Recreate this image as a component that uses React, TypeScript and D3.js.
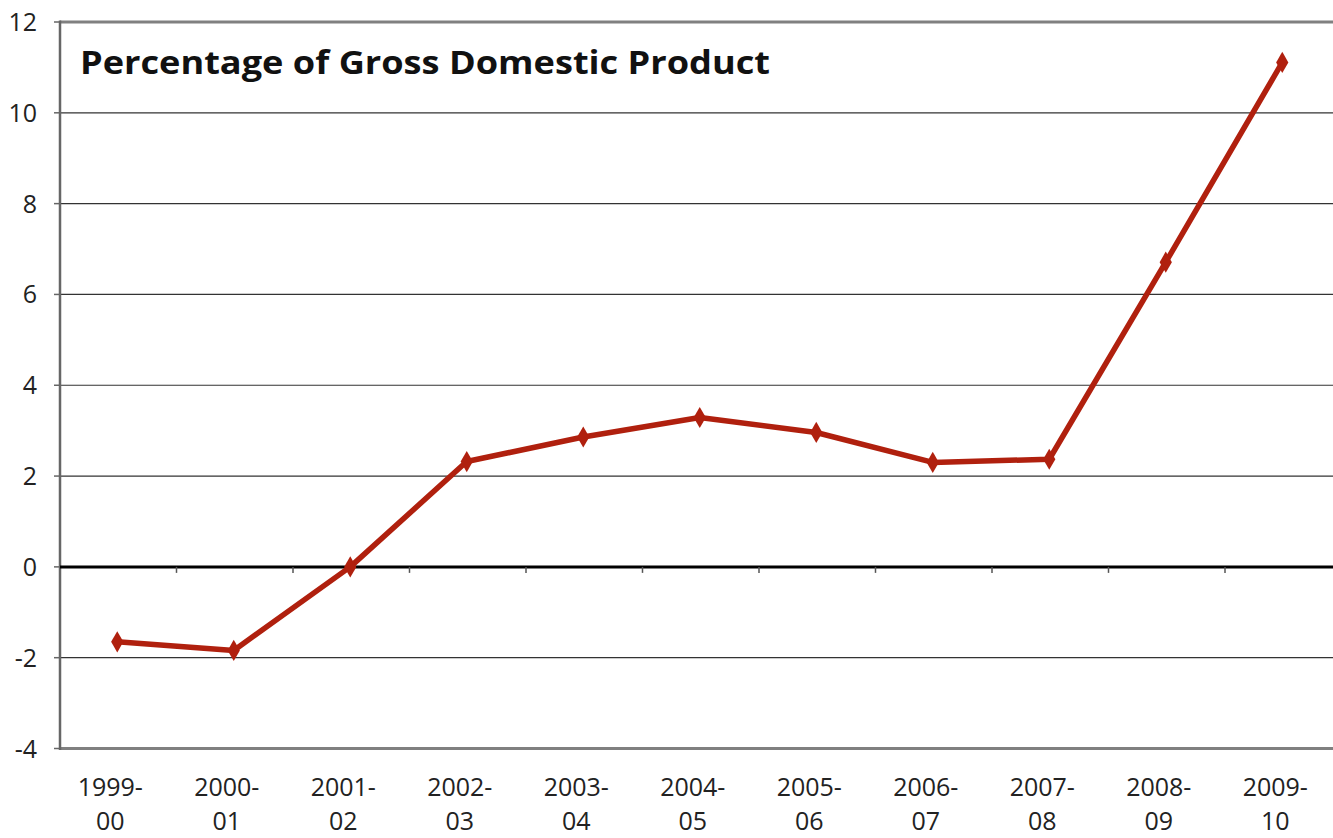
import React from "react";
import * as d3 from "d3";

const categories = ["1999-00", "2000-01", "2001-02", "2002-03", "2003-04", "2004-05", "2005-06", "2006-07", "2007-08", "2008-09", "2009-10"];
const values = [-1.65, -1.84, 0.0, 2.32, 2.86, 3.29, 2.96, 2.3, 2.37, 6.71, 11.11];
const yTicks = [-4, -2, 0, 2, 4, 6, 8, 10, 12];
const title = "Percentage of Gross Domestic Product";

const W = 1333, H = 838;
const left = 60, top = 22, bottom = 748.5;
const band = 116.5;

export default function App() {
  const x = d3.scaleBand<string>().domain(categories).range([left, left + band * categories.length]).padding(0);
  const y = d3.scaleLinear().domain([-4, 12]).range([bottom, top]);
  const cx = (c: string) => (x(c) as number) + x.bandwidth() / 2 - 1;
  const line = d3.line<number>().x((_, i) => cx(categories[i])).y((v) => y(v));
  const diamond = d3.symbol().type(d3.symbolDiamond).size(130)();
  const font = "'Open Sans', 'Noto Sans', sans-serif";
  return (
    <svg width={W} height={H} style={{ position: "absolute", left: 0, top: 0, background: "#fff" }}>
      {yTicks.filter((t) => t !== 0 && t !== -4 && t !== 12).map((t) => (
        <line key={t} x1={left} x2={W} y1={y(t)} y2={y(t)} stroke="#333" strokeWidth={1.2} />
      ))}
      <line x1={left} x2={W} y1={y(12)} y2={y(12)} stroke="#808080" strokeWidth={3} />
      <line x1={left} x2={W} y1={y(-4)} y2={y(-4)} stroke="#808080" strokeWidth={3} />
      <line x1={left} x2={left} y1={top - 1.5} y2={bottom + 1.5} stroke="#666" strokeWidth={2.5} />
      {yTicks.map((t) => (
        <g key={t}>
          <line x1={left - 6} x2={left} y1={y(t)} y2={y(t)} stroke="#666" strokeWidth={1.5} />
          <text x={37} y={y(t)} dy="0.36em" textAnchor="end" fontFamily={font} fontSize={25} fill="#222">{t}</text>
        </g>
      ))}
      <line x1={left} x2={W} y1={y(0)} y2={y(0)} stroke="#000" strokeWidth={3} />
      {categories.slice(1).map((c) => (
        <line key={c} x1={x(c) as number} x2={x(c) as number} y1={y(0)} y2={y(0) + 6} stroke="#555" strokeWidth={1.5} />
      ))}
      {categories.map((c) => {
        const [a, b] = c.split("-");
        return (
          <text key={c} textAnchor="middle" fontFamily={font} fontSize={25} fill="#222">
            <tspan x={cx(c) - 7} y={796}>{a + "-"}</tspan>
            <tspan x={cx(c) - 7} y={830}>{b}</tspan>
          </text>
        );
      })}
      <text x={80} y={74} fontFamily={font} fontWeight={700} fontSize={32} fill="#111" textLength={690} lengthAdjust="spacingAndGlyphs">{title}</text>
      <path d={line(values) as string} fill="none" stroke="#B0200E" strokeWidth={5.5} strokeLinejoin="round" />
      {values.map((v, i) => (
        <path key={i} d={diamond as string} transform={`translate(${cx(categories[i])},${y(v)})`} fill="#B0200E" />
      ))}
    </svg>
  );
}
